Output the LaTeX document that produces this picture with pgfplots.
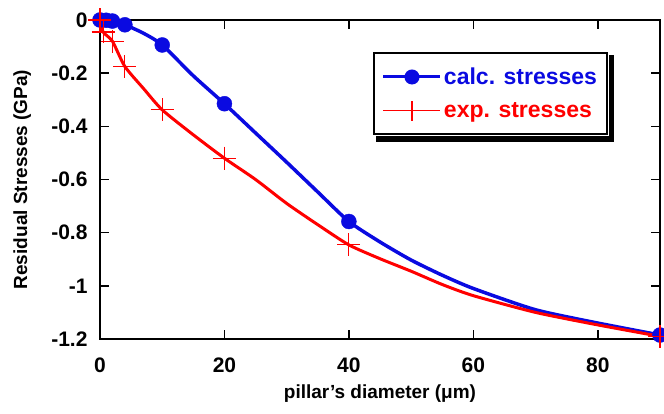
\documentclass[border=0pt]{standalone}
\usepackage{fontspec}
\setmainfont{Liberation Sans}
\usepackage{pgfplots}
\pgfplotsset{compat=1.18}
\definecolor{cblue}{RGB}{10,10,225}
\definecolor{cred}{RGB}{255,0,0}
\begin{document}
\begin{tikzpicture}
\begin{axis}[
  scale only axis, width=560pt, height=319pt,
  xmin=0, xmax=90, ymin=-1.2, ymax=0,
  xtick={0,20,40,60,80}, ytick={-1.2,-1,-0.8,-0.6,-0.4,-0.2,0},
  tick align=inside, major tick length=9pt,
  axis line style={line width=1.5pt},
  every tick/.style={line width=1.5pt, black},
  /pgf/number format/assume math mode=true,
  ticklabel style={font=\bfseries\fontsize{21}{24}\selectfont},
  xticklabel style={yshift=-15pt},
  yticklabel style={xshift=-9pt},
  xlabel={pillar's diameter (μm)},
  xlabel style={font=\bfseries\fontsize{19}{22}\selectfont, at={(axis description cs:0.5,-0.172)}, anchor=center},
  ylabel={Residual Stresses (GPa)},
  ylabel style={font=\bfseries\fontsize{19}{22}\selectfont, at={(axis description cs:-0.139,0.5)}, anchor=center},
  clip=false,
  legend cell align=left,
  legend style={at={(axis description cs:0.4875,0.9)}, anchor=north west, name=leg,
    draw=black, line width=2pt, fill=white, inner xsep=8pt, inner ysep=13pt,
    font=\bfseries\fontsize{23}{26}\selectfont, row sep=12pt},
]
% calculated stresses: curve
\addplot[cblue, line width=3.5pt, smooth, tension=0.4, forget plot] coordinates {
(0,0) (1,-0.001) (2,-0.004) (4,-0.018) (7,-0.05) (10,-0.094) (15,-0.21) (20,-0.315)
(25,-0.425) (30,-0.535) (35,-0.647) (40,-0.758) (45,-0.835) (50,-0.903) (55,-0.96)
(60,-1.01) (70,-1.09) (80,-1.14) (90,-1.185)};
\addplot[cblue, only marks, mark=*, mark size=7.5pt,
  legend image code/.code={\draw[cblue,line width=3pt] (0pt,0pt) -- (57pt,0pt); \fill[cblue] (28.5pt,0pt) circle (6.5pt);}]
coordinates {(0,0) (1,-0.001) (2,-0.004) (4,-0.018) (10,-0.094) (20,-0.315) (40,-0.758) (90,-1.185)};
\addlegendentry{\textcolor{cblue}{calc. stresses}\hspace{28pt}}
% experimental stresses: curve
\addplot[cred, line width=3pt, smooth, tension=0.4, forget plot] coordinates {
(0,0) (0.5,-0.045) (2,-0.08) (4,-0.175) (7,-0.258) (10,-0.338) (15,-0.432) (20,-0.52)
(25,-0.6) (30,-0.69) (35,-0.77) (40,-0.846) (45,-0.898) (50,-0.945) (55,-0.995)
(60,-1.037) (70,-1.10) (80,-1.147) (90,-1.19)};
\addplot[cred, only marks, mark=+, mark size=11.5pt, mark options={line width=1.2pt},
  legend image code/.code={\draw[cred,line width=1.5pt] (0pt,0pt) -- (57pt,0pt); \draw[cred,line width=1.2pt] (28.5pt,-10pt) -- (28.5pt,10pt);}]
coordinates {(0,0) (0.5,-0.045) (2,-0.08) (4,-0.175) (10,-0.338) (20,-0.52) (40,-0.846) (90,-1.19)};
\addlegendentry{\textcolor{cred}{exp. stresses}}
\end{axis}
\fill[black] ([xshift=3pt,yshift=-1pt]leg.south west) rectangle ([xshift=6pt,yshift=-7pt]leg.south east);
\fill[black] ([xshift=1pt,yshift=-3pt]leg.north east) rectangle ([xshift=6pt,yshift=-7pt]leg.south east);
\pgfresetboundingbox
\path[use as bounding box] (-100pt,-75pt) rectangle (564pt,339pt);
\end{tikzpicture}
\end{document}
